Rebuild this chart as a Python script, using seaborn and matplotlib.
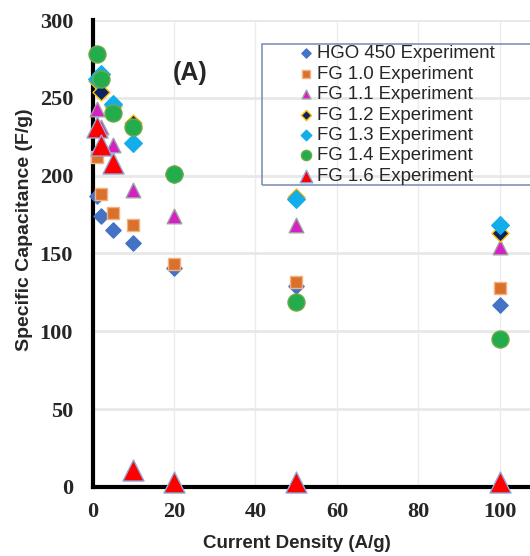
import pandas as pd
import seaborn as sns
import matplotlib.pyplot as plt
from matplotlib.patches import Rectangle

# Current density (A/g) and specific capacitance (F/g)
current = [1, 2, 5, 10, 20, 50, 100]
hgo450 = [187, 174, 165, 157, 141, 129, 117]
fg10 = [212, 188, 176, 168, 143, 132, 128]
fg11 = [243, 231, 220, 191, 174, 168, 154]
fg12 = [261, 254, 245, 234, 201, 186, 163]
fg13 = [262, 265, 246, 221, 201, 185, 168]
fg14 = [278, 262, 240, 231, 201, 119, 95]
fg16 = [231, 220, 208, 11, 3, 3, 3]

series = [
    ("HGO 450 Experiment", hgo450, "D", "#4472C4", "#4472C4", 60),
    ("FG 1.0 Experiment", fg10, "s", "#D9712B", "#F4B183", 85),
    ("FG 1.1 Experiment", fg11, "^", "#D61FC4", "#A0A0A0", 110),
    ("FG 1.2 Experiment", fg12, "D", "#0A2463", "#FFC000", 75),
    ("FG 1.3 Experiment", fg13, "D", "#13AEEA", "#13AEEA", 80),
    ("FG 1.4 Experiment", fg14, "o", "#22AC4C", "#6FA84A", 150),
    ("FG 1.6 Experiment", fg16, "^", "#FF0000", "#8FAADC", 230),
]

sns.set_style("white")
fig = plt.figure(figsize=(5.3, 5.56), dpi=100)
ax = fig.add_axes([92.5 / 530, 69 / 556, 1 - 92.5 / 530, 467 / 556])

for label, vals, mk, fc, ec, size in series:
    df = pd.DataFrame({"x": current, "y": vals})
    sns.scatterplot(data=df, x="x", y="y", ax=ax, marker=mk, color=fc,
                    edgecolor=ec, linewidth=1.0, s=size, label=label,
                    clip_on=False, zorder=5)

ax.set_xlim(0, 107.4)
ax.set_ylim(0, 300)
ax.set_xticks([0, 20, 40, 60, 80, 100])
ax.set_yticks([0, 50, 100, 150, 200, 250, 300])
ax.grid(True, axis="y", color="#E8E8E8", linewidth=2)
ax.grid(True, axis="x", color="#EBEBEB", linewidth=1)
ax.set_axisbelow(True)

for side in ["top", "right"]:
    ax.spines[side].set_visible(False)
for side in ["left", "bottom"]:
    ax.spines[side].set_linewidth(3)
    ax.spines[side].set_color("black")

ax.tick_params(axis="both", direction="out", length=5, width=3, color="black")
ax.tick_params(axis="y", pad=9)
ax.tick_params(axis="x", pad=6)
for t in ax.get_xticklabels() + ax.get_yticklabels():
    t.set_fontfamily("Liberation Serif")
    t.set_fontweight("bold")
    t.set_fontsize(16)

ax.set_xlabel("Current Density (A/g)", fontsize=13.5, fontweight="bold",
              family="Liberation Sans")
ax.set_ylabel("Specific Capacitance (F/g)", fontsize=14, fontweight="bold",
              family="Liberation Sans")
ax.xaxis.set_label_coords(0.467, -0.102)
ax.yaxis.set_label_coords(-0.137, 0.55)

ax.text(24, 266, "(A)", fontsize=18, fontweight="bold",
        family="Liberation Sans", ha="center", va="center")

# legend frame (transparent), then centered legend content
ax.add_patch(Rectangle((262 / 530, (556 - 185) / 556), 290 / 530, 141 / 556,
                       transform=fig.transFigure, facecolor="none",
                       edgecolor="#7F93B5", linewidth=1.2, clip_on=False,
                       zorder=8))
leg = ax.legend(loc="center", bbox_to_anchor=(397 / 530, (556 - 115) / 556),
                bbox_transform=fig.transFigure, frameon=False,
                prop={"family": "Liberation Sans", "size": 13.4},
                labelspacing=0.18, handlelength=0.7, handletextpad=0.25,
                borderpad=0.2, markerscale=0.6)
leg.set_zorder(10)

fig.savefig("out.png", dpi=100)
